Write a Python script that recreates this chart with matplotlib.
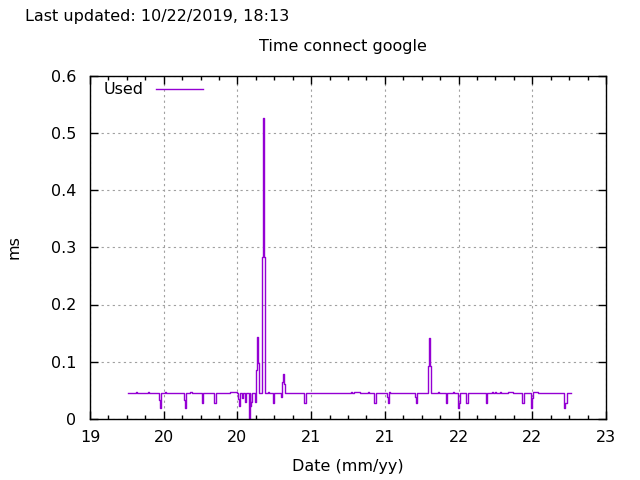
import matplotlib
matplotlib.use("Agg")
import matplotlib.pyplot as plt
from matplotlib.ticker import MultipleLocator


# x is in tick intervals (0 = first "19" tick), y in ms; drawn as steps
t = [0.512, 0.628, 0.642, 0.783, 0.796, 0.936, 0.950, 0.963, 1.022, 1.035,
     1.271, 1.285, 1.299, 1.357, 1.377, 1.516, 1.533, 1.682, 1.706, 1.900,
     1.990, 2.001, 2.015, 2.035, 2.062, 2.076, 2.103, 2.121, 2.153, 2.167,
     2.175, 2.189, 2.198, 2.235, 2.248, 2.256, 2.270, 2.284, 2.297, 2.338,
     2.351, 2.365, 2.379, 2.415, 2.429, 2.483, 2.501, 2.592, 2.609, 2.623,
     2.637, 2.651, 2.908, 2.931, 3.537, 3.551, 3.582, 3.664, 3.776, 3.790,
     3.858, 3.881, 4.026, 4.039, 4.053, 4.071, 4.414, 4.428, 4.442, 4.582,
     4.596, 4.609, 4.623, 4.726, 4.740, 4.830, 4.848, 4.919, 4.932, 4.993,
     5.007, 5.020, 5.106, 5.125, 5.369, 5.387, 5.451, 5.464, 5.495, 5.509,
     5.563, 5.577, 5.668, 5.744, 5.866, 5.885, 5.984, 5.997, 6.011, 6.075,
     6.436, 6.449, 6.468, 6.522]
used = [0.045, 0.047, 0.045, 0.047, 0.045, 0.033, 0.020, 0.045, 0.047, 0.045,
        0.033, 0.020, 0.045, 0.047, 0.045, 0.028, 0.045, 0.028, 0.045, 0.047,
        0.045, 0.035, 0.023, 0.045, 0.037, 0.045, 0.030, 0.045, 0.000, 0.045,
        0.023, 0.030, 0.045, 0.030, 0.045, 0.086, 0.143, 0.098, 0.045, 0.283,
        0.525, 0.283, 0.045, 0.047, 0.045, 0.028, 0.045, 0.038, 0.065, 0.079,
        0.061, 0.045, 0.028, 0.045, 0.047, 0.045, 0.047, 0.045, 0.047, 0.045,
        0.028, 0.045, 0.038, 0.028, 0.048, 0.045, 0.038, 0.028, 0.045, 0.093,
        0.142, 0.093, 0.045, 0.047, 0.045, 0.028, 0.045, 0.047, 0.045, 0.020,
        0.028, 0.045, 0.028, 0.045, 0.028, 0.045, 0.047, 0.045, 0.047, 0.045,
        0.047, 0.045, 0.047, 0.045, 0.028, 0.045, 0.020, 0.036, 0.047, 0.045,
        0.020, 0.028, 0.045, 0.045]

xtick_labels = ["19", "20", "20", "21", "21", "22", "22", "23"]
yticks = [0, 0.1, 0.2, 0.3, 0.4, 0.5, 0.6]
ytick_labels = ["0", "0.1", "0.2", "0.3", "0.4", "0.5", "0.6"]

plt.rcParams["font.family"] = "DejaVu Sans"
plt.rcParams["font.size"] = 11.5

fig = plt.figure(figsize=(6.4, 4.8), dpi=100)
ax = fig.add_axes([90 / 640, 1 - 419 / 480, 516 / 640, 343.5 / 480])

ax.plot(t, used, drawstyle="steps-post", color="#9400d3", lw=1.0, label="Used")

ax.set_xlim(0, 7)
ax.set_ylim(0, 0.6)
ax.set_xticks(range(len(xtick_labels)))
ax.set_xticklabels(xtick_labels)
ax.xaxis.set_minor_locator(MultipleLocator(0.25))
ax.set_yticks(yticks)
ax.set_yticklabels(ytick_labels)

ax.tick_params(which="both", direction="in", top=True, right=True, width=1)
ax.tick_params(which="major", length=6, labelsize=11.5)
ax.tick_params(which="minor", length=3)
ax.tick_params(axis="x", pad=8)
ax.tick_params(axis="y", pad=10)
for s in ax.spines.values():
    s.set_linewidth(1)

ax.grid(True, which="major", color="#a0a0a0", linestyle=(0, (2, 3)), lw=0.8)

ax.set_xlabel("Date (mm/yy)", labelpad=10)
ax.set_ylabel("ms", labelpad=21)

ax.legend(loc="upper left", bbox_to_anchor=(0, 1.02), frameon=False,
          handlelength=3.0, handletextpad=0.75, borderaxespad=0.45,
          markerfirst=False)

fig.text(343 / 640, 1 - 46 / 480, "Time connect google",
         ha="center", va="center", fontsize=11.5)
fig.text(25 / 640, 1 - 16 / 480, "Last updated: 10/22/2019, 18:13",
         ha="left", va="center", fontsize=11.5)

fig.savefig("out.png", dpi=100)
